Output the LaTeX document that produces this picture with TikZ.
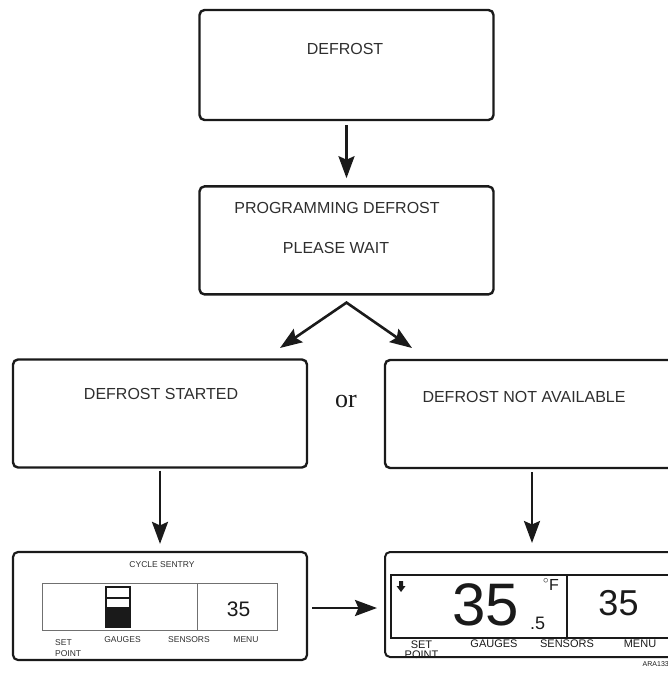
\documentclass[tikz,border=0pt]{standalone}
\usepackage{fontspec}
\setmainfont{Liberation Sans}
\newfontfamily\orfont{Liberation Serif}
\usetikzlibrary{positioning,arrows.meta,calc}
\definecolor{ink}{HTML}{1A1A1A}
\definecolor{txt}{HTML}{2E2E2E}
\definecolor{rule}{HTML}{707070}
\tikzset{
  >={Stealth[length=22pt, width=16pt, inset=3.5pt]},
  screen/.style={draw=ink, line width=2.4pt, rounded corners=5pt, inner sep=0pt,
                 minimum width=294pt, minimum height=108pt},
  msg/.style={font=\fontsize{16}{18}\selectfont, text=txt, anchor=base, inner sep=0pt},
  keyl/.style={font=\fontsize{8.5}{11}\selectfont, text=txt, anchor=base, inner sep=0pt},
  keyr/.style={font=\fontsize{11}{10}\selectfont, text=ink, anchor=base, inner sep=0pt},
  ar/.style={->, line width=2.6pt, draw=ink, line join=miter},
  pane/.style={draw=rule, line width=0.9pt},
}

\begin{document}
\begin{tikzpicture}[x=1pt, y=-1pt]
\useasboundingbox (0,0) rectangle (668,674);

% message screens
\node[screen, minimum height=110pt] (defrost) at (346.5,65) {};
\node[screen] (prog) [below=64pt of defrost] {};
\node[screen] (started) at (160,413.5) {};
\node[screen] (notavail) at (532,414) {};

\node[msg] (tdef) at (345,55) {DEFROST};
\node[msg] (tprog) at (337,213) {PROGRAMMING DEFROST};
\node[msg] (twait) at (336,253) {PLEASE WAIT};
\node[msg] (tstart) at (161,399) {DEFROST STARTED};
\node[msg] (tnot) at (524,402) {DEFROST NOT AVAILABLE};
\node[anchor=base, inner sep=0pt, font=\orfont\fontsize{26}{28}\selectfont, text=ink] (or) at (346,407) {or};

% displays
\node[screen, line width=2.2pt] (lcd) at (160,606) {};
\node[screen, line width=2pt, minimum height=105pt] (rdisp) at (532,604.5) {};

% flow
\coordinate (fork) at ($(prog.south)+(0,7)$);
\coordinate (tipL) at (280,348);
\coordinate (tipR) at (412,348);
\draw[ar, shorten <=4pt, shorten >=7pt] (defrost) -- (prog);
\draw[ar, <->] (tipL) -- (fork) -- (tipR);
\draw[ar, shorten <=2pt, shorten >=7pt] (started) -- (lcd);
\draw[ar, shorten <=3pt, shorten >=8pt] (notavail) -- (rdisp);
\draw[ar, shorten <=4pt, shorten >=7pt] ([yshift=-2pt]lcd.east) -- ([yshift=-2pt]lcd.east -| rdisp.west);

% cycle sentry screen
\node[keyl] (cs) at (162,567.5) {CYCLE SENTRY};
\draw[pane] (42,583) rectangle (277,630);
\draw[pane] (197,583) -- (197,630);
\draw[ink, line width=1.4pt] (106,587) rectangle (130,627);
\draw[ink, line width=1.2pt] (106,598) -- (130,598);
\fill[ink] (106,607) rectangle (130,627);
\node[anchor=base, inner sep=0pt, font=\fontsize{21}{22}\selectfont, text=ink] (sp1) at (238.5,616) {35};
\node[keyl, align=left, anchor=north west] (lset) at (55,639.5) {SET\\POINT};
\node[keyl] (lgau) at (122.5,642) {GAUGES};
\node[keyl] (lsen) at (189,642) {SENSORS};
\node[keyl] (lmen) at (246,642) {MENU};

% standard screen
\draw[ink, line width=1.2pt] (391,575) rectangle (690,638);
\draw[ink, line width=1.2pt] (567,575) -- (567,638);
\fill[ink] (399,581) -- (403,581) -- (403,586) -- (405.5,586) -- (401,592)
  -- (396.5,586) -- (399,586) -- cycle;
\node[anchor=base, inner sep=0pt, font=\fontsize{60}{62}\selectfont, text=ink] (box) at (486,625) {35};
\node[anchor=base, inner sep=0pt, font=\fontsize{18}{20}\selectfont, text=ink] (dec) at (537.5,629) {.5};
\node[anchor=base, inner sep=0pt, font=\fontsize{16}{18}\selectfont, text=ink] (unit) at (551,590) {$^\circ$F};
\node[anchor=base, inner sep=0pt, font=\fontsize{36}{38}\selectfont, text=ink] (sp2) at (618.5,615) {35};
\node[keyr, align=center, anchor=north] (rset) at (421.5,641) {SET\\POINT};
\node[keyr] (rgau) at (494,647) {GAUGES};
\node[keyr] (rsen) at (567,647) {SENSORS};
\node[keyr] (rmen) at (640,647) {MENU};
\node[anchor=base east, inner sep=0pt, font=\fontsize{7}{8}\selectfont, text=ink] (fig) at (669,666) {ARA133};
\end{tikzpicture}
\end{document}
